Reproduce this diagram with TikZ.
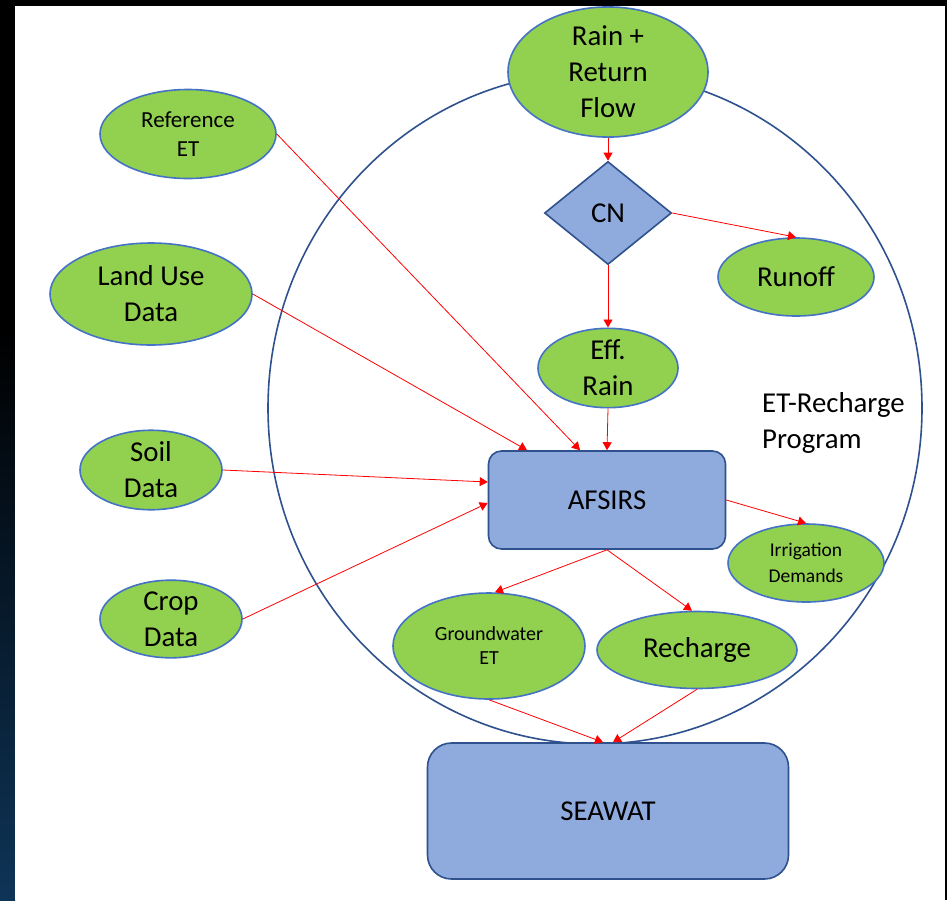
\documentclass[tikz,border=0pt]{standalone}
\usepackage{fontspec}
\setmainfont{Carlito}
\usetikzlibrary{shapes.geometric,arrows.meta}
\definecolor{leaf}{HTML}{92D050}
\definecolor{rim}{HTML}{4472C4}
\definecolor{boxfill}{HTML}{8FAADC}
\definecolor{boxrim}{HTML}{2F528F}
\definecolor{navy}{HTML}{0E3457}

\begin{document}
\begin{tikzpicture}[x=1pt,y=-1pt,
  oval/.style={ellipse, draw=rim, line width=1.6pt, fill=leaf, inner sep=0pt, align=center, text=black},
  proc/.style={rectangle, rounded corners=13pt, draw=boxrim, line width=1.6pt, fill=boxfill, inner sep=0pt, align=center},
  decision/.style={diamond, draw=boxrim, line width=1.6pt, fill=boxfill, inner sep=0pt, align=center},
  flow/.style={draw=red, line width=0.8pt, -{Triangle[length=8pt,width=9pt,fill=red]}},
  big/.style={font=\fontsize{28.8}{36}\selectfont},
]
\useasboundingbox (0,0) rectangle (947,900);

% slide background and white canvas
\fill[black] (0,0) rectangle (947,900);
\shade[top color=black, bottom color=navy] (0,330) rectangle (15,900);
\fill[white] (15,6) rectangle (945,900);

% program boundary
\node[ellipse, draw=boxrim, line width=1.6pt, minimum width=654pt, minimum height=672pt, inner sep=0pt] (prog) at (595,408) {};

% nodes inside the program
\node[oval, big, minimum width=200pt, minimum height=112pt] (rain) at (608,72) {Rain +\\Return\\Flow};
\node[decision, big, minimum width=127pt, minimum height=103pt] (cn) at (608,213) {CN};
\node[oval, big, minimum width=156pt, minimum height=78pt] (runoff) at (796,277) {Runoff};
\node[oval, big, minimum width=140pt, minimum height=77pt] (eff) at (608,368) {Eff.\\Rain};
\node[proc, big, minimum width=237pt, minimum height=98pt] (afsirs) at (607,500) {AFSIRS};
\node[oval, font=\fontsize{19.5}{26}\selectfont, minimum width=156pt, minimum height=78pt] (irr) at (806,563) {Irrigation\\Demands};
\node[oval, font=\fontsize{20}{24}\selectfont, minimum width=192pt, minimum height=106pt] (gw) at (489,646) {Groundwater\\ET};
\node[oval, big, minimum width=200pt, minimum height=77pt] (rech) at (697,650) {Recharge};
\node[proc, rounded corners=24pt, big, minimum width=361pt, minimum height=136pt] (sea) at (608,811) {SEAWAT};
\node[big, align=left, anchor=west, inner sep=0pt] (label) at (762,423) {ET-Recharge\\Program};

% input data
\node[oval, font=\fontsize{23}{29}\selectfont, minimum width=176pt, minimum height=89pt] (ref) at (188,134) {Reference\\ET};
\node[oval, big, minimum width=202pt, minimum height=102pt] (land) at (151,294) {Land Use\\Data};
\node[oval, big, minimum width=142pt, minimum height=77pt] (soil) at (151,470) {Soil\\Data};
\node[oval, big, minimum width=142pt, minimum height=77pt] (crop) at (171,619) {Crop\\Data};

% flows
\draw[flow] (rain.south) -- (cn.north);
\draw[flow] (cn.east) -- (runoff.north);
\draw[flow] (cn.south) -- (eff.north);
\draw[flow] (eff.south) -- (afsirs.north);
\draw[flow] (ref.east) -- ([xshift=-27pt]afsirs.north);
\draw[flow] (land.east) -- ([xshift=-80pt]afsirs.north);
\draw[flow] (soil.east) -- ([yshift=18pt]afsirs.west);
\draw[flow] (crop.east) -- ([yshift=-3pt]afsirs.west);
\draw[flow] (afsirs.east) -- (irr.north);
\draw[flow] (afsirs.south) -- ([xshift=6pt]gw.north);
\draw[flow] (afsirs.south) -- ([xshift=-5pt]rech.north);
\draw[flow] (gw.south) -- ([xshift=-5pt]sea.north);
\draw[flow] (rech.south) -- ([xshift=5pt]sea.north);
\end{tikzpicture}
\end{document}
